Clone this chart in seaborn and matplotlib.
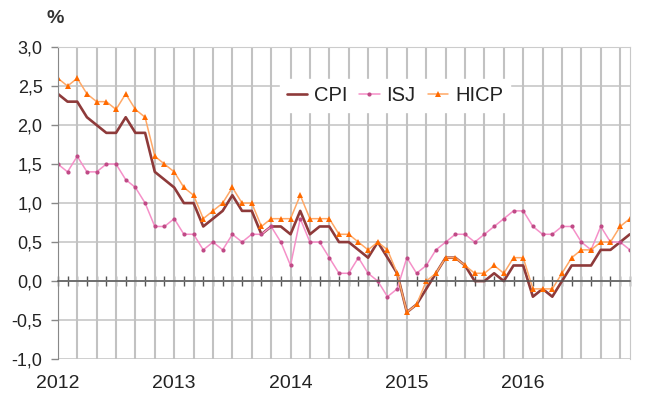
import numpy as np
import matplotlib
matplotlib.use("Agg")
import matplotlib.pyplot as plt
import matplotlib.transforms as mtransforms
import pandas as pd
import seaborn as sns

# monthly values, Jan 2012 .. Dec 2016
years = ["2012", "2013", "2014", "2015", "2016"]
cpi = [2.4, 2.3, 2.3, 2.1, 2.0, 1.9, 1.9, 2.1, 1.9, 1.9, 1.4, 1.3,
       1.2, 1.0, 1.0, 0.7, 0.8, 0.9, 1.1, 0.9, 0.9, 0.6, 0.7, 0.7,
       0.6, 0.9, 0.6, 0.7, 0.7, 0.5, 0.5, 0.4, 0.3, 0.5, 0.3, 0.1,
       -0.4, -0.3, -0.1, 0.1, 0.3, 0.3, 0.2, 0.0, 0.0, 0.1, 0.0, 0.2,
       0.2, -0.2, -0.1, -0.2, 0.0, 0.2, 0.2, 0.2, 0.4, 0.4, 0.5, 0.6]
isj = [1.5, 1.4, 1.6, 1.4, 1.4, 1.5, 1.5, 1.3, 1.2, 1.0, 0.7, 0.7,
       0.8, 0.6, 0.6, 0.4, 0.5, 0.4, 0.6, 0.5, 0.6, 0.6, 0.7, 0.5,
       0.2, 0.8, 0.5, 0.5, 0.3, 0.1, 0.1, 0.3, 0.1, 0.0, -0.2, -0.1,
       0.3, 0.1, 0.2, 0.4, 0.5, 0.6, 0.6, 0.5, 0.6, 0.7, 0.8, 0.9,
       0.9, 0.7, 0.6, 0.6, 0.7, 0.7, 0.5, 0.4, 0.7, 0.5, 0.5, 0.4]
hicp = [2.6, 2.5, 2.6, 2.4, 2.3, 2.3, 2.2, 2.4, 2.2, 2.1, 1.6, 1.5,
        1.4, 1.2, 1.1, 0.8, 0.9, 1.0, 1.2, 1.0, 1.0, 0.7, 0.8, 0.8,
        0.8, 1.1, 0.8, 0.8, 0.8, 0.6, 0.6, 0.5, 0.4, 0.5, 0.4, 0.1,
        -0.4, -0.3, 0.0, 0.1, 0.3, 0.3, 0.2, 0.1, 0.1, 0.2, 0.1, 0.3,
        0.3, -0.1, -0.1, -0.1, 0.1, 0.3, 0.4, 0.4, 0.5, 0.5, 0.7, 0.8]

df = pd.DataFrame({"month": np.arange(len(cpi)), "CPI": cpi, "ISJ": isj, "HICP": hicp})

sns.set_style("white")
plt.rcParams["font.family"] = ["Liberation Sans", "DejaVu Sans"]

fig = plt.figure(figsize=(6.5, 4.2), dpi=100)
ax = fig.add_axes([0.089, 0.145, 0.880, 0.743])

sns.lineplot(data=df, x="month", y="CPI", ax=ax, color="#8e3a3a", lw=1.9, label="CPI")
sns.lineplot(data=df, x="month", y="ISJ", ax=ax, color="#f590c8", lw=1.1,
             marker="o", markersize=3, markerfacecolor="#c04a86", markeredgewidth=0,
             label="ISJ")
sns.lineplot(data=df, x="month", y="HICP", ax=ax, color="#ffa866", lw=1.1,
             marker="^", markersize=4.5, markerfacecolor="#ff6a00", markeredgewidth=0,
             label="HICP")

ax.set_xlim(0, len(cpi) - 1)
ax.set_ylim(-1.0, 3.0)
ax.set_xlabel("")
ax.set_ylabel("")

# vertical grid every two months
ax.vlines(np.arange(0, len(cpi), 2), 0, 1, transform=ax.get_xaxis_transform(),
          colors="#c2c2c2", lw=1.5, zorder=1)

# y axis
yt = np.arange(-1.0, 3.01, 0.5)
ax.set_yticks(yt)
ax.set_yticklabels([f"{v:.1f}".replace(".", ",") for v in yt], fontsize=13, color="#222222")
ax.tick_params(axis="y", left=True, direction="out", length=5, width=1, color="#888888", pad=6)
ax.grid(axis="y", color="#cccccc", lw=1.3)

# zero axis with monthly ticks
ax.spines["bottom"].set_position(("data", 0))
ax.spines["bottom"].set_color("#555555")
ax.spines["bottom"].set_linewidth(1.1)
ax.set_xticks(np.arange(len(cpi)))
ax.set_xticklabels([])
ax.tick_params(axis="x", bottom=True, direction="inout", length=7,
               width=1, color="#555555")
ax.spines["left"].set_color("#888888")
ax.spines["right"].set_color("#c8c8c8")
ax.spines["top"].set_color("#cccccc")
ax.set_axisbelow(True)

trans = mtransforms.blended_transform_factory(ax.transData, ax.transAxes)
for k, y in enumerate(years):
    ax.text(k * 12, -0.077, y, transform=trans, ha="center", va="center",
            fontsize=14, color="#222222")

ax.text(-0.3, 1.09, "%", transform=trans, ha="center", va="center",
        fontsize=14, color="#333333", fontweight="bold")

leg = ax.legend(loc="upper left", bbox_to_anchor=(0.37, 0.93), ncol=3,
                frameon=True, fontsize=14.5, handlelength=1.0, handletextpad=0.35,
                columnspacing=0.6, borderpad=0.35, fancybox=False)
leg.get_frame().set_facecolor("white")
leg.get_frame().set_edgecolor("white")
leg.get_frame().set_alpha(1)
for t in leg.get_texts():
    t.set_color("#222222")

fig.savefig("out.png", dpi=100, facecolor="white")
